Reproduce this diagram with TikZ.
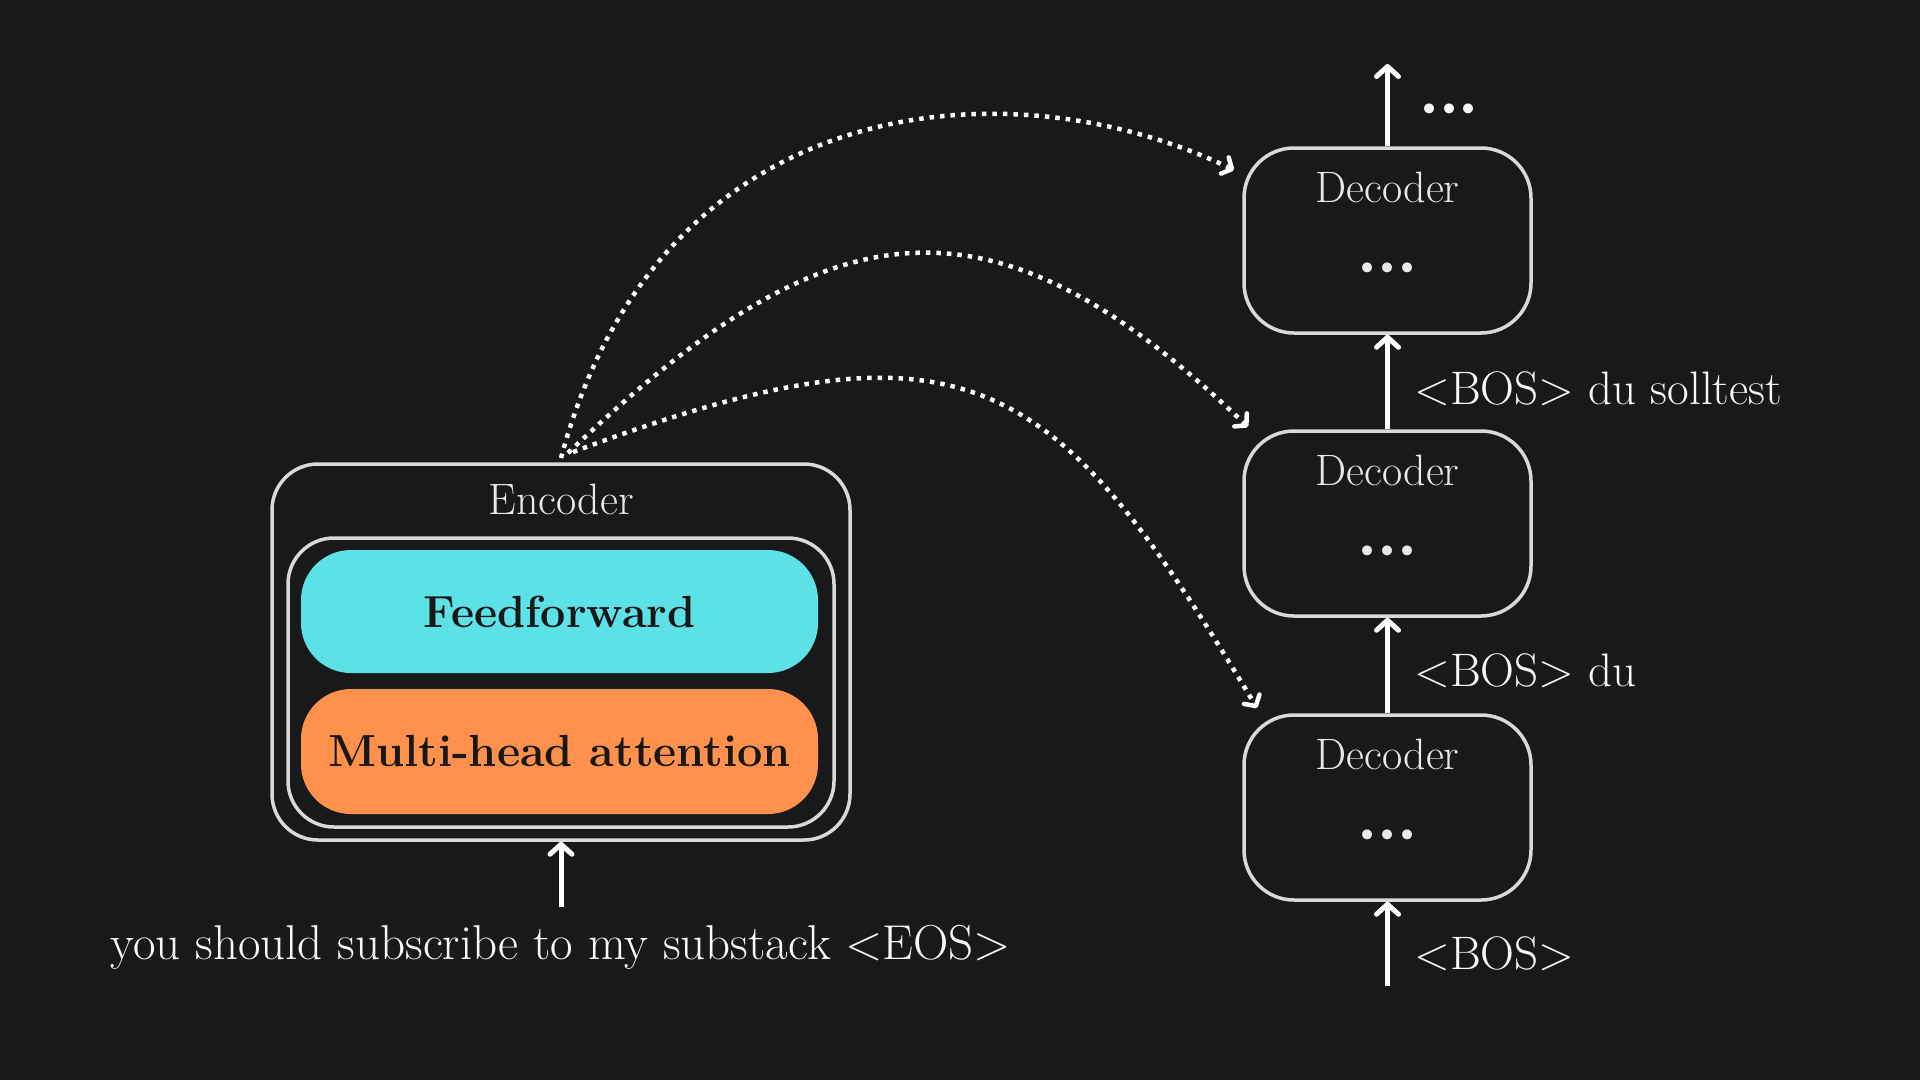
\documentclass[tikz,border=0pt]{standalone}
\usepackage{fontspec}
\setmainfont{Latin Modern Roman}
\newfontfamily\dotfont{DejaVu Sans}
\usetikzlibrary{arrows.meta,calc}
\definecolor{bg}{RGB}{24,25,27}
\definecolor{boxline}{RGB}{217,217,217}
\definecolor{cyanfill}{RGB}{92,225,230}
\definecolor{orangefill}{RGB}{255,145,77}
\definecolor{txt}{RGB}{247,247,247}
\definecolor{lbl}{RGB}{232,232,232}
\definecolor{darktxt}{RGB}{24,24,24}
\newcommand{\mydots}{•\kern-0.5pt•\kern-0.5pt•}
\begin{document}
\begin{tikzpicture}[x=1pt,y=-1pt,
  frame/.style={draw=boxline,line width=3.5pt,rounded corners=46pt,inner sep=0pt},
  pill/.style={rounded corners=50pt,minimum width=517pt,inner sep=0pt,
    font=\fontsize{45}{54}\selectfont\bfseries,text=darktxt},
  decbox/.style={draw=boxline,line width=3.5pt,rounded corners=50pt,inner sep=0pt,
    minimum width=287pt,minimum height=185pt},
  boxlabel/.style={text=lbl,font=\fontsize{44}{52}\selectfont,inner sep=0pt,anchor=base},
  dotlabel/.style={text=lbl,font=\dotfont\fontsize{34}{40}\selectfont,inner sep=0pt},
  toklabel/.style={text=txt,font=\fontsize{47}{56}\selectfont,inner sep=0pt,anchor=base west},
  arr/.style={draw=white,line width=5pt,
    -{Straight Barb[length=10pt,width=22pt,line cap=round,line join=round]}},
  dotarr/.style={draw=white,line width=4.5pt,dash pattern=on 4.5pt off 6pt,
    -{Straight Barb[length=8pt,width=18pt,line cap=round,line join=round]}}
]
\fill[bg] (0,0) rectangle (1920,1080);

% Encoder
\node[frame,minimum width=578pt,minimum height=376pt] (enc) at (561,652) {};
\node[frame,minimum width=546pt,minimum height=289pt] (encin) at (561,682.5) {};
\node[pill,fill=cyanfill,minimum height=123pt] (ff) at (559.5,611.5) {Feedforward};
\node[pill,fill=orangefill,minimum height=125pt] (mha) at (559.5,751.5) {Multi-head attention};
\node[boxlabel] (enclbl) at (561,514) {Encoder};
\node[text=txt,font=\fontsize{49}{58}\selectfont,inner sep=0pt,anchor=base] (src) at (561,959)
  {you should subscribe to my substack <EOS>};
\coordinate (srctop) at (561,907);
\draw[arr] (srctop) -- (enc.south);

% Decoders
\node[decbox] (d1) at (1387.5,240.5) {};
\node[decbox] (d2) at (1387.5,523.5) {};
\node[decbox] (d3) at (1387.5,807.5) {};
\foreach \d in {d1,d2,d3}{
  \node[boxlabel] (\d t) at ($(\d.north)+(0,56)$) {Decoder};
  \node[dotlabel] (\d x) at ($(\d.north)+(0,125)$) {\mydots};
}
\coordinate (bosin) at (1387.5,986);
\coordinate (out) at (1387.5,64);
\draw[arr] (bosin) -- (d3.south);
\draw[arr] (d3.north) -- (d2.south);
\draw[arr] (d2.north) -- (d1.south);
\draw[arr] (d1.north) -- (out);
\node[toklabel] (t3) at (1414,969) {<BOS>};
\node[toklabel] (t2) at (1414,686) {<BOS> du};
\node[toklabel] (t1) at (1414,404) {<BOS> du solltest};
\node[dotlabel,text=txt] (outdots) at (1449,113) {\mydots};

% Cross connections
\coordinate (s1) at (561,458);
\coordinate (s2) at (568,453);
\coordinate (s3) at (573,452);
\coordinate (e1) at (1234,170);
\coordinate (e2) at (1248,427);
\coordinate (e3) at (1257,708);
\draw[dotarr] (s1) .. controls (660,88) and (1010,62) .. (e1);
\draw[dotarr] (s2) .. controls (828,205) and (988,178) .. (e2);
\draw[dotarr] (s3) .. controls (973,302) and (1057,376) .. (e3);
\end{tikzpicture}
\end{document}
